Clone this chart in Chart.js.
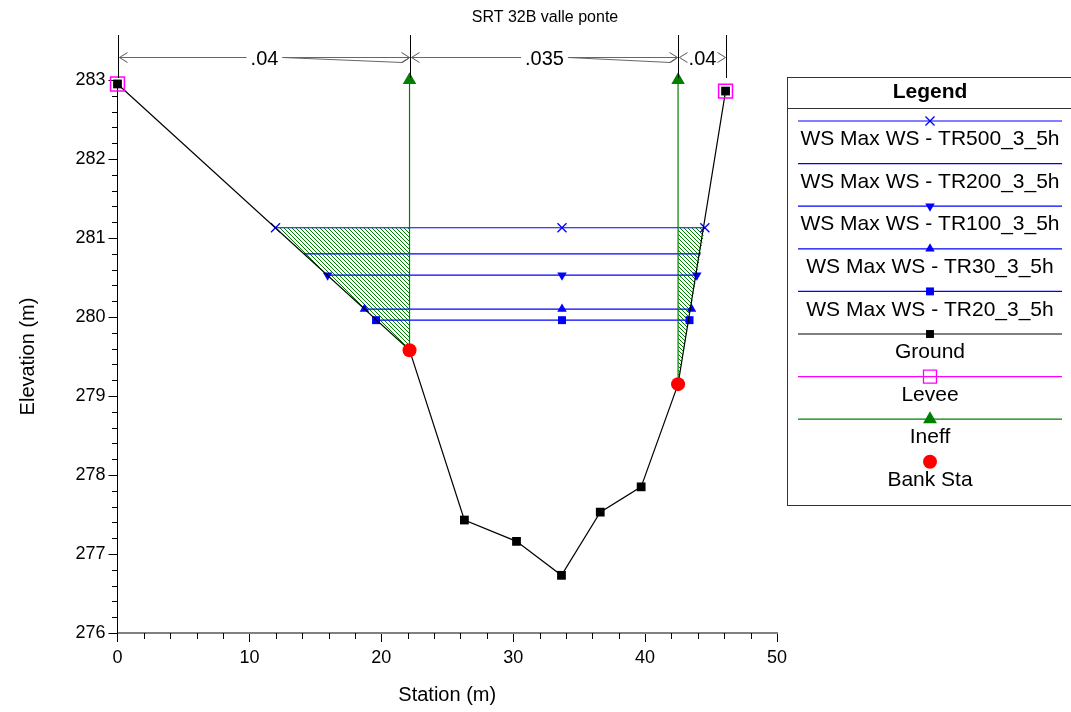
<!DOCTYPE html>
<html>
<head>
<meta charset="utf-8">
<title>SRT 32B valle ponte</title>
<script src="https://cdn.jsdelivr.net/npm/chart.js@4.4.1/dist/chart.umd.min.js"></script>
<style>
  html, body { margin: 0; padding: 0; background: #fff; }
  #wrap { width: 1071px; height: 712px; }
</style>
</head>
<body>
<div id="wrap"><canvas id="xsChart" width="1071" height="712"></canvas></div>
<script>
/* --- cross section: SRT 32B valle ponte --- */

const chartTitle = 'SRT 32B valle ponte';

// ground profile (station m, elevation m)
const groundSta  = [0, 22.14, 26.3, 30.25, 33.66, 36.6, 39.7, 42.5, 46.1];
const groundElev = [282.95, 279.58, 277.43, 277.16, 276.73, 277.53, 277.85, 279.15, 282.86];

const leveeSta  = [0, 46.1];
const leveeElev = [282.95, 282.86];

const bankSta  = [22.14, 42.5];
const bankElev = [279.58, 279.15];

const ineffSta  = [22.14, 42.5];
const ineffElev = [283, 283];

// water surfaces
const wsNames = [
    'WS Max WS - TR500_3_5h',
    'WS Max WS - TR200_3_5h',
    'WS Max WS - TR100_3_5h',
    'WS Max WS - TR30_3_5h',
    'WS Max WS - TR20_3_5h'
];
const wsElev  = [281.13, 280.80, 280.53, 280.10, 279.96];
const wsLeft  = [11.98, 14.13, 15.93, 18.72, 19.60];
const wsMid   = [33.7, 33.7, 33.7, 33.7, 33.7];
const wsRight = [44.53, 44.22, 43.92, 43.52, 43.37];

// manning's n regions
const nSta = [0, 22.14, 42.5, 46.1];
const nVal = ['.04', '.035', '.04'];

const FONT = "'Liberation Sans', Arial, sans-serif";
Chart.defaults.font.family = FONT;
Chart.defaults.color = '#000';

const BLUE = '#0000ff';
const GREEN = '#008000';
const MAGENTA = '#ff00ff';
const RED = '#ff0000';

const wsMarkers = [
    { pointStyle: 'crossRot', radius: 6.4, rotation: 0, borderWidth: 1.3 },
    null,
    { pointStyle: 'triangle', radius: 5.5, rotation: 180, borderWidth: 0 },
    { pointStyle: 'triangle', radius: 5.5, rotation: 0, borderWidth: 0 },
    { pointStyle: 'rect', radius: 5.6, rotation: 0, borderWidth: 0 }
];

const isMult = (v, step) => Math.abs(v / step - Math.round(v / step)) < 1e-6;
const pts = (xs, ys) => xs.map((s, i) => ({ x: s, y: ys[i] }));

/** DATASETS **/
const datasets = [];

datasets.push({
    label: 'Bank Sta', data: pts(bankSta, bankElev), showLine: false,
    pointStyle: 'circle', pointRadius: 7, pointBackgroundColor: RED,
    pointBorderColor: RED, pointBorderWidth: 0, order: 0
});
datasets.push({
    label: 'Levee', data: pts(leveeSta, leveeElev), showLine: false,
    pointStyle: 'rect', pointRadius: 9.8, pointBackgroundColor: 'rgba(0,0,0,0)',
    pointBorderColor: MAGENTA, pointBorderWidth: 1.5, order: 1
});
datasets.push({
    label: 'Ground', data: pts(groundSta, groundElev), showLine: true,
    borderColor: '#000', borderWidth: 1.2,
    pointStyle: 'rect', pointRadius: 6.2, pointBackgroundColor: '#000',
    pointBorderColor: '#000', pointBorderWidth: 0, order: 2
});
ineffSta.forEach((s, i) => {
    datasets.push({
        label: 'Ineff', data: [{ x: s, y: bankElev[i] }, { x: s, y: ineffElev[i] }], showLine: true,
        borderColor: GREEN, borderWidth: 1.2,
        pointStyle: 'triangle', pointRadius: [0, 7.8], pointBackgroundColor: GREEN,
        pointBorderColor: GREEN, pointBorderWidth: 0, order: 3
    });
});
wsNames.forEach((name, i) => {
    const m = wsMarkers[i];
    datasets.push({
        label: name,
        data: [{ x: wsLeft[i], y: wsElev[i] }, { x: wsMid[i], y: wsElev[i] }, { x: wsRight[i], y: wsElev[i] }],
        showLine: true, borderColor: BLUE, borderWidth: 1.2,
        pointStyle: m ? m.pointStyle : 'circle', pointRadius: m ? m.radius : 0,
        pointRotation: m ? m.rotation : 0,
        pointBackgroundColor: BLUE, pointBorderColor: BLUE,
        pointBorderWidth: m ? m.borderWidth : 0, order: 4 + i
    });
});
datasets.forEach(d => { d.clip = false; d.pointHoverRadius = d.pointRadius; });

// ineffective flow hatch areas, under the highest water surface
const hatchAreas = [
    [[wsLeft[0], wsElev[0]], [ineffSta[0], wsElev[0]], [ineffSta[0], bankElev[0]]],
    [[ineffSta[1], bankElev[1]], [ineffSta[1], wsElev[0]], [wsRight[0], wsElev[0]]]
];

/** LEGEND ITEMS **/
const legendItems = wsNames.map((name, i) => ({ text: name, line: BLUE, fill: BLUE, stroke: BLUE, marker: wsMarkers[i] }));
legendItems.push({ text: 'Ground', line: '#000', fill: '#000', stroke: '#000', marker: { pointStyle: 'rect', radius: 5.6, rotation: 0, borderWidth: 0 } });
legendItems.push({ text: 'Levee', line: MAGENTA, fill: 'rgba(0,0,0,0)', stroke: MAGENTA, marker: { pointStyle: 'rect', radius: 9.2, rotation: 0, borderWidth: 1.3 } });
legendItems.push({ text: 'Ineff', line: GREEN, fill: GREEN, stroke: GREEN, marker: { pointStyle: 'triangle', radius: 8, rotation: 0, borderWidth: 0 } });
legendItems.push({ text: 'Bank Sta', line: null, fill: RED, stroke: RED, marker: { pointStyle: 'circle', radius: 7, rotation: 0, borderWidth: 0 } });

/** DECORATION PLUGIN **/
let hatchPattern = null;

function seg(ctx, x1, y1, x2, y2) {
    ctx.beginPath();
    ctx.moveTo(x1, y1);
    ctx.lineTo(x2, y2);
    ctx.stroke();
}

function drawNValues(chart) {
    const { ctx, chartArea, scales: { x } } = chart;
    const yA = chartArea.top - 22.5;
    ctx.save();
    ctx.lineWidth = 1;
    ctx.strokeStyle = '#000';
    nSta.forEach(s => {
        const px = Math.round(x.getPixelForValue(s)) + 0.5;
        seg(ctx, px, chartArea.top - 45, px, chartArea.top - 2);
    });
    ctx.font = '20px ' + FONT;
    ctx.textAlign = 'center';
    ctx.textBaseline = 'middle';
    nVal.forEach((txt, i) => {
        const x1 = Math.round(x.getPixelForValue(nSta[i])) + 0.5;
        const x2 = Math.round(x.getPixelForValue(nSta[i + 1])) + 0.5;
        const mid = (x1 + x2) / 2;
        const tw = ctx.measureText(txt).width;
        const gl = mid - tw / 2 - 4, gr = mid + tw / 2 + 4;
        ctx.strokeStyle = '#666';
        if (gl > x1 + 10) seg(ctx, x1 + 1, yA, gl, yA);
        if (gr < x2 - 10) {
            seg(ctx, gr, yA, x2 - 1, yA);
            ctx.beginPath();
            ctx.moveTo(gr, yA);
            ctx.lineTo(x2 - 8, yA + 5);
            ctx.lineTo(x2 - 2, yA + 1);
            ctx.stroke();
        }
        ctx.strokeStyle = '#555';
        ctx.beginPath();
        ctx.moveTo(x1 + 9, yA - 5); ctx.lineTo(x1 + 1, yA); ctx.lineTo(x1 + 9, yA + 5);
        ctx.moveTo(x2 - 9, yA - 5); ctx.lineTo(x2 - 1, yA); ctx.lineTo(x2 - 9, yA + 5);
        ctx.stroke();
        ctx.fillStyle = '#000';
        ctx.fillText(txt, mid, yA + 1.5);
    });
    ctx.restore();
}

function drawLegend(chart) {
    const { ctx } = chart;
    const left = 787.5, top = 77.5, right = 1080, bottom = 505.5, cx = 930;
    ctx.save();
    ctx.strokeStyle = '#333';
    ctx.lineWidth = 1;
    ctx.strokeRect(left, top, right - left, bottom - top);
    seg(ctx, left, 108.5, right, 108.5);
    ctx.fillStyle = '#000';
    ctx.textAlign = 'center';
    ctx.textBaseline = 'middle';
    ctx.font = 'bold 21px ' + FONT;
    ctx.fillText('Legend', cx, 92);
    ctx.font = '21px ' + FONT;
    legendItems.forEach((it, i) => {
        const ly = 121 + i * 42.6;
        if (it.line) {
            ctx.strokeStyle = it.line;
            ctx.lineWidth = 1.2;
            seg(ctx, 798, ly, 1062, ly);
        }
        if (it.marker) {
            ctx.fillStyle = it.fill;
            ctx.strokeStyle = it.stroke;
            ctx.lineWidth = it.marker.borderWidth || 1;
            Chart.helpers.drawPoint(ctx, it.marker, cx, ly);
        }
        ctx.fillStyle = '#000';
        ctx.fillText(it.text, cx, ly + 18.5);
    });
    ctx.restore();
}

const xsDecor = {
    id: 'xsDecor',
    beforeDatasetsDraw(chart) {
        const { ctx, scales: { x, y } } = chart;
        if (!hatchPattern) {
            const c = document.createElement('canvas');
            c.width = 4; c.height = 4;
            const g = c.getContext('2d');
            g.fillStyle = GREEN;
            for (let i = 0; i < 4; i++) g.fillRect(i, i, 1, 1);
            hatchPattern = ctx.createPattern(c, 'repeat');
        }
        ctx.save();
        ctx.fillStyle = hatchPattern;
        hatchAreas.forEach(poly => {
            ctx.beginPath();
            poly.forEach((p, i) => {
                const px = x.getPixelForValue(p[0]), py = y.getPixelForValue(p[1]);
                if (i) ctx.lineTo(px, py); else ctx.moveTo(px, py);
            });
            ctx.closePath();
            ctx.fill();
        });

        // minor ticks
        ctx.strokeStyle = '#000';
        ctx.lineWidth = 1;
        y.ticks.forEach(t => {
            if (isMult(t.value, 1)) return;
            const py = Math.round(y.getPixelForValue(t.value)) + 0.5;
            seg(ctx, y.right - 5.5, py, y.right, py);
        });
        x.ticks.forEach(t => {
            if (isMult(t.value, 10)) return;
            const px = Math.round(x.getPixelForValue(t.value)) + 0.5;
            seg(ctx, px, x.top, px, x.top + 6);
        });
        ctx.restore();
    },
    afterDraw(chart) {
        const { ctx } = chart;
        ctx.save();
        ctx.fillStyle = '#000';
        ctx.font = '16px ' + FONT;
        ctx.textAlign = 'center';
        ctx.textBaseline = 'middle';
        ctx.fillText(chartTitle, 545, 18);
        ctx.restore();
        drawNValues(chart);
        drawLegend(chart);
    }
};

/** CHART **/
new Chart(document.getElementById('xsChart'), {
    type: 'scatter',
    data: { datasets },
    plugins: [xsDecor],
    options: {
        responsive: false,
        animation: false,
        events: [],
        layout: { padding: { left: 0, right: 294, top: 80, bottom: 0 } },
        plugins: { legend: { display: false }, tooltip: { enabled: false }, title: { display: false } },
        scales: {
            x: {
                type: 'linear', position: 'bottom', min: 0, max: 50,
                afterFit: s => { s.height = 79; },
                border: { display: true, color: '#808080', width: 2 },
                grid: {
                    drawOnChartArea: false, tickLength: 9, tickWidth: 1,
                    tickColor: c => (c.tick && isMult(c.tick.value, 10)) ? '#000' : 'rgba(0,0,0,0)'
                },
                ticks: {
                    stepSize: 2, autoSkip: false, maxRotation: 0, maxTicksLimit: 100, padding: 5,
                    font: { size: 18 }, color: '#000',
                    callback: v => isMult(v, 10) ? String(Math.round(v)) : ''
                },
                title: { display: true, text: 'Station (m)', color: '#000', font: { size: 20 }, padding: { top: 0, bottom: 5 } }
            },
            y: {
                type: 'linear', position: 'left', min: 276, max: 283,
                afterFit: s => { s.width = 117.5; },
                border: { display: true, color: '#000', width: 1 },
                grid: {
                    drawOnChartArea: false, tickLength: 9, tickWidth: 1,
                    tickColor: c => (c.tick && isMult(c.tick.value, 1)) ? '#000' : 'rgba(0,0,0,0)'
                },
                ticks: {
                    stepSize: 0.2, autoSkip: false, maxTicksLimit: 100, padding: 3,
                    font: { size: 18 }, color: '#000',
                    callback: v => isMult(v, 1) ? String(Math.round(v)) : ''
                },
                title: { display: true, text: 'Elevation (m)', color: '#000', font: { size: 20 }, padding: { top: 16, bottom: 0 } }
            }
        }
    }
});
</script>
</body>
</html>
